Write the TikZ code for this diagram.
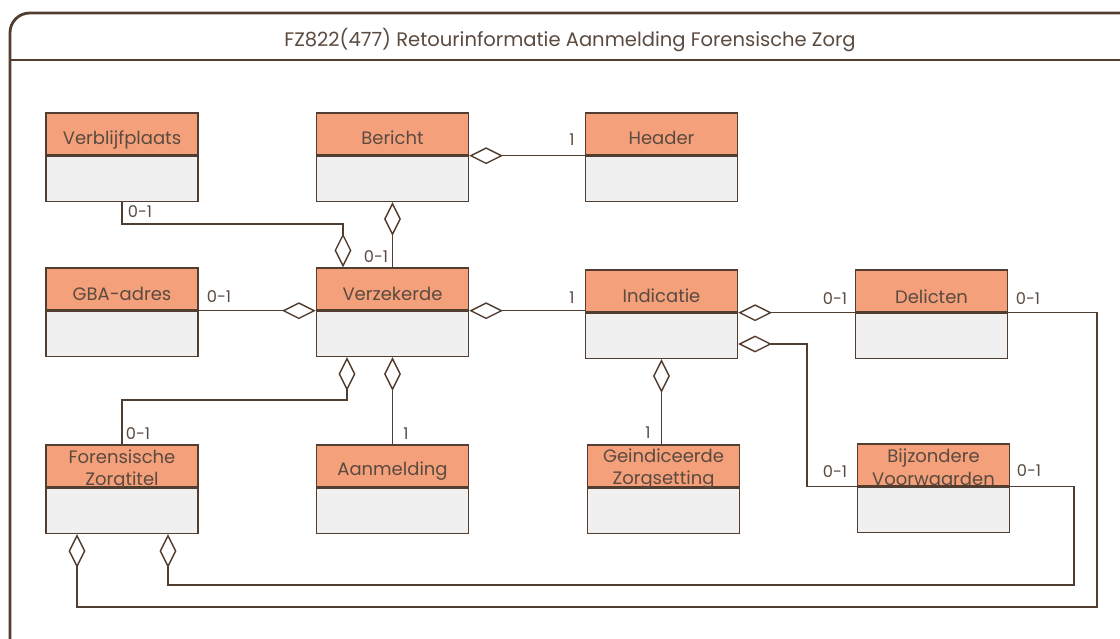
\documentclass[tikz,border=0pt]{standalone}
\usepackage{fontspec}
\setmainfont{Poppins}
\usetikzlibrary{positioning,arrows.meta}

\definecolor{hdrfill}{RGB}{244,160,122}
\definecolor{bodyfill}{RGB}{240,240,240}
\definecolor{ln}{RGB}{82,62,48}
\definecolor{txt}{RGB}{90,74,64}

\begin{document}
\begin{tikzpicture}[
  x=0.025cm, y=-0.025cm,        % <-- pixel grid
  text=txt,
  frame/.style={line width=2pt, draw=ln, rounded corners=14pt},
  hdr/.style={rectangle, draw=ln, fill=hdrfill, line width=1pt, minimum width=3.8cm, minimum height=1.05cm, inner sep=0pt},
  bdy/.style={rectangle, draw=ln, fill=bodyfill, line width=1pt, minimum width=3.8cm, minimum height=1.125cm, inner sep=0pt},
  cname/.style={align=center, inner sep=0pt, font=\fontsize{12.8}{16}\selectfont},
  mult/.style={inner sep=0pt, font=\fontsize{11.5}{12}\selectfont},
  agg/.style={line width=1pt, draw=ln, {Diamond[open, length=24pt, width=12pt]}-},
  title/.style={inner sep=0pt, font=\fontsize{13.9}{16}\selectfont}
]
\useasboundingbox (0,0) rectangle (1120,639);
\clip (0,0) rectangle (1120,639);

% ===================== FRAME =====================
\draw[frame] (10,13) rectangle (1150,670);
\draw[line width=2pt, draw=ln] (10,60) -- (1150,60);
\node[title] (title) at (570,40) {FZ822(477) Retourinformatie Aanmelding Forensische Zorg};

% ===================== TOP ROW =====================
\node[hdr] (vb) at (122,134) {};
\node[cname] (vb-t) at (122,140) {Verblijfplaats};
\node[bdy, below=0pt of vb] (vb-b) {};

\node[hdr] (ber) at (392.5,134) {};
\node[cname] (ber-t) at (392.5,138) {Bericht};
\node[bdy, below=0pt of ber] (ber-b) {};

\node[hdr] (hd) at (661.5,134) {};
\node[cname] (hd-t) at (661.5,138) {Header};
\node[bdy, below=0pt of hd] (hd-b) {};

% ===================== MIDDLE ROW =====================
\node[hdr] (gba) at (122,289) {};
\node[cname] (gba-t) at (122,294) {GBA-adres};
\node[bdy, below=0pt of gba] (gba-b) {};

\node[hdr] (vz) at (392.5,289) {};
\node[cname] (vz-t) at (392.5,294) {Verzekerde};
\node[bdy, below=0pt of vz] (vz-b) {};

\node[hdr] (ind) at (661.5,291) {};
\node[cname] (ind-t) at (661.5,296) {Indicatie};
\node[bdy, below=0pt of ind] (ind-b) {};

\node[hdr] (del) at (931.5,291) {};
\node[cname] (del-t) at (931.5,297) {Delicten};
\node[bdy, below=0pt of del] (del-b) {};

% ===================== BOTTOM ROW =====================
\node[hdr] (fz) at (122,466) {};
\node[cname] (fz-t) at (122,470) {Forensische\\Zorgtitel};
\node[bdy, below=0pt of fz] (fz-b) {};

\node[hdr] (aan) at (392.5,466) {};
\node[cname] (aan-t) at (392.5,471) {Aanmelding};
\node[bdy, below=0pt of aan] (aan-b) {};

\node[hdr] (gz) at (663.5,466) {};
\node[cname] (gz-t) at (663.5,469) {Geindiceerde\\Zorgsetting};
\node[bdy, below=0pt of gz] (gz-b) {};

\node[hdr] (bz) at (933.5,465) {};
\node[cname] (bz-t) at (933.5,467) {Bijzondere\\Voorwaarden};
\node[bdy, below=0pt of bz] (bz-b) {};

% ===================== AGGREGATIONS =====================
\coordinate (k1) at (343,224);   % Verblijfplaats
\coordinate (k2) at (347,400);   % Forensische Zorgtitel
\coordinate (k3) at (807,344);   % Bijzondere Voorwaarden
\coordinate (k4) at (77,607);    % Delicten, outer loop
\coordinate (k5) at (1097,607);
\coordinate (k6) at (168,585);   % Bijzondere, inner loop
\coordinate (k7) at (1074,585);

\draw[agg] (ber-b.north east) -- (hd-b.north west);
\draw[agg] (ber-b.south) -- (vz.north);
\draw[agg] (k1 |- vz.north) -- (k1) -| (vb-b.south);
\draw[agg] (vz-b.north west) -- (gba-b.north east);
\draw[agg] (vz-b.north east) -- (vz-b.north east -| ind.west);
\draw[agg] (k2 |- vz-b.south) -- (k2) -| (fz.north);
\draw[agg] (vz-b.south) -- (aan.north);
\draw[agg] (ind-b.south) -- (ind-b.south |- gz.north);
\draw[agg] (ind-b.north east) -- (del-b.north west);
\draw[agg] (k3 -| ind-b.east) -- (k3) |- (bz-b.north west);
\draw[agg] (k4 |- fz-b.south) -- (k4) -- (k5) |- (del-b.north east);
\draw[agg] (k6 |- fz-b.south) -- (k6) -- (k7) |- (bz-b.north east);

% Multiplicities
\node[mult] (m1)  at (572,140) {1};
\node[mult] (m2)  at (376,257) {0-1};
\node[mult] (m3)  at (140,212) {0-1};
\node[mult] (m4)  at (219,297) {0-1};
\node[mult] (m5)  at (572,298) {1};
\node[mult] (m6)  at (138,434) {0-1};
\node[mult] (m7)  at (406,434) {1};
\node[mult] (m8)  at (648,433) {1};
\node[mult] (m9)  at (835,299) {0-1};
\node[mult] (m10) at (1028,299) {0-1};
\node[mult] (m11) at (835,472) {0-1};
\node[mult] (m12) at (1029,471) {0-1};

\end{tikzpicture}
\end{document}
